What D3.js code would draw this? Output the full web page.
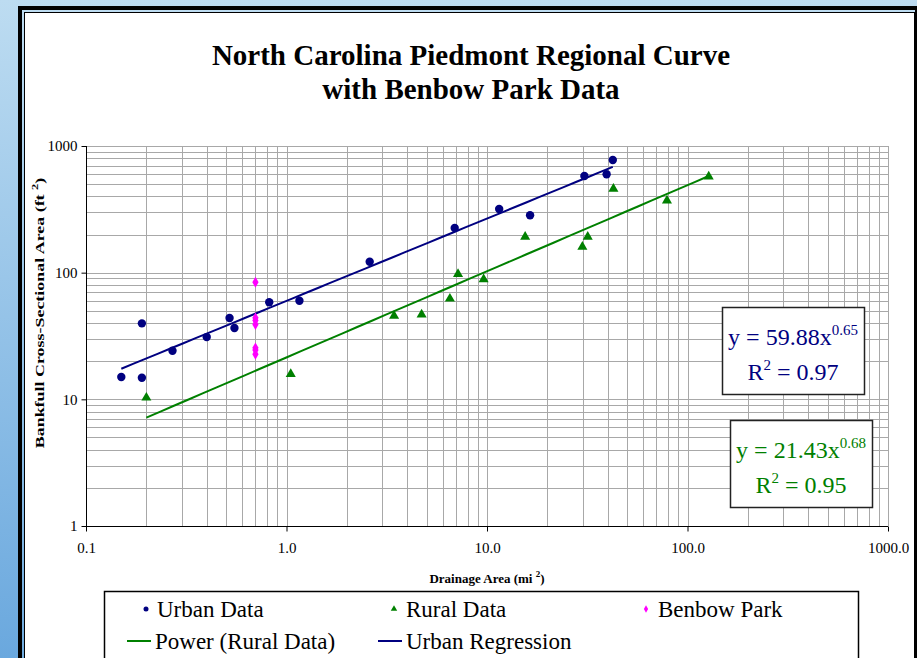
<!DOCTYPE html>
<html>
<head>
<meta charset="utf-8">
<script src="https://cdn.jsdelivr.net/npm/d3@7"></script>
<style>
  html, body { margin: 0; padding: 0; overflow: hidden; background: #fff; }
  svg text { font-family: "Liberation Serif", "Times New Roman", Times, serif; }
</style>
</head>
<body>
<svg id="chart" width="917" height="658"></svg>
<script>
// Drainage area (mi²) and bankfull cross-sectional area (ft²) per survey site
const urbanArea = [0.15, 0.19, 0.19, 0.27, 0.40, 0.52, 0.55, 0.82, 1.16, 2.6, 6.9, 11.5, 16.4, 30.6, 39.5, 42.4];
const urbanXS   = [15.0, 39.8, 14.8, 24.2, 31.0, 43.9, 36.6, 58.4, 60.1, 122, 225, 318, 284, 579, 598, 775];

const ruralArea = [0.20, 1.05, 3.44, 4.72, 6.53, 7.17, 9.62, 15.5, 29.9, 31.8, 42.7, 79.0, 127.6];
const ruralXS   = [10.3, 15.8, 45.7, 46.6, 62.3, 97.6, 88.5, 192, 160, 192, 460, 370, 573];

const benbowArea = [0.70, 0.70, 0.70, 0.70, 0.70, 0.70, 0.70];
const benbowXS   = [84, 44, 42, 39, 25.5, 24.5, 22.7];

// Power-law fits y = a·x^b
const urbanFit = { a: 59.88, b: 0.65, r2: "0.97" };
const ruralFit = { a: 21.43, b: 0.68, r2: "0.95" };

const xTickValues = [0.1, 1, 10, 100, 1000];
const xTickLabels = ["0.1", "1.0", "10.0", "100.0", "1000.0"];
const yTickValues = [1, 10, 100, 1000];
const yTickLabels = ["1", "10", "100", "1000"];

const NAVY = "#000080", GREEN = "#008000", PINK = "#ff00ff";

const svg = d3.select("#chart");

// ---- page background and frame ----
const defs = svg.append("defs");
const grad = defs.append("linearGradient").attr("id", "bg").attr("x1", 0).attr("y1", 0).attr("x2", 0).attr("y2", 1);
grad.append("stop").attr("offset", "0%").attr("stop-color", "#bddcf1");
grad.append("stop").attr("offset", "100%").attr("stop-color", "#6aa8de");

svg.append("rect").attr("width", 917).attr("height", 658).attr("fill", "url(#bg)");
svg.append("rect").attr("x", 18).attr("y", 6).attr("width", 1000).attr("height", 700).attr("fill", "#000");
svg.append("rect").attr("x", 22).attr("y", 10).attr("width", 893).attr("height", 700).attr("fill", "url(#bg)");
svg.append("rect").attr("x", 24).attr("y", 12).attr("width", 891).attr("height", 700).attr("fill", "#000");
svg.append("rect").attr("x", 25).attr("y", 13).attr("width", 889).attr("height", 700).attr("fill", "#fff");

// ---- title ----
const title = svg.append("text").attr("text-anchor", "middle")
  .attr("font-weight", "bold").attr("font-size", 29).attr("fill", "#000");
title.append("tspan").attr("x", 471).attr("y", 65).text("North Carolina Piedmont Regional Curve");
title.append("tspan").attr("x", 471).attr("y", 99).text("with Benbow Park Data");

// ---- scales ----
const plot = { left: 86, right: 888, top: 146, bottom: 526 };
const x = d3.scaleLog().domain([0.1, 1000]).range([plot.left, plot.right]);
const y = d3.scaleLog().domain([1, 1000]).range([plot.bottom, plot.top]);

const g = svg.append("g");

// gridlines at every 1–9 step of each decade
const minorX = [], minorY = [];
for (let d = 0.1; d < 1000; d *= 10) for (let k = 1; k <= 10; k++) minorX.push(+(d * k).toPrecision(3));
for (let d = 1; d < 1000; d *= 10) for (let k = 1; k <= 10; k++) minorY.push(+(d * k).toPrecision(3));

g.append("g").selectAll("line").data(Array.from(new Set(minorX))).join("line")
  .attr("x1", d => Math.round(x(d)) + 0.5).attr("x2", d => Math.round(x(d)) + 0.5)
  .attr("y1", plot.top).attr("y2", plot.bottom)
  .attr("stroke", "#a8a8a8").attr("stroke-width", 1);
g.append("g").selectAll("line").data(Array.from(new Set(minorY))).join("line")
  .attr("y1", d => Math.round(y(d)) + 0.5).attr("y2", d => Math.round(y(d)) + 0.5)
  .attr("x1", plot.left).attr("x2", plot.right)
  .attr("stroke", "#a8a8a8").attr("stroke-width", 1);

// axes
const xAxis = d3.axisBottom(x).tickValues(xTickValues)
  .tickFormat((d, i) => xTickLabels[i]).tickSize(5).tickPadding(11);
const yAxis = d3.axisLeft(y).tickValues(yTickValues)
  .tickFormat((d, i) => yTickLabels[i]).tickSize(5).tickPadding(4);

const gx = g.append("g").attr("transform", `translate(0,${plot.bottom + 0.5})`).call(xAxis);
const gy = g.append("g").attr("transform", `translate(${plot.left + 0.5},0)`).call(yAxis);
[gx, gy].forEach(a => {
  a.select(".domain").attr("stroke", "#000");
  a.selectAll(".tick line").attr("stroke", "#000");
  a.selectAll(".tick text").attr("font-size", 15).attr("fill", "#000");
});
gx.select(".domain").attr("d", `M${plot.left},0H${plot.right}`);
gy.select(".domain").attr("d", `M0,${plot.bottom}V${plot.top}`);

// axis titles
const xt = svg.append("text").attr("text-anchor", "middle").attr("x", 487).attr("y", 583)
  .attr("font-weight", "bold").attr("font-size", 13);
xt.append("tspan").text("Drainage Area (mi ");
xt.append("tspan").attr("dy", -6).attr("font-size", 9).text("2");
xt.append("tspan").attr("dy", 6).text(")");

const yt = svg.append("text").attr("text-anchor", "middle")
  .attr("transform", "translate(44,313) rotate(-90) scale(1.38,1)")
  .attr("font-weight", "bold").attr("font-size", 13);
yt.append("tspan").text("Bankfull Cross-Sectional Area (ft ");
yt.append("tspan").attr("dy", -6).attr("font-size", 9).text("2");
yt.append("tspan").attr("dy", 6).text(")");

// ---- regression curves over each data range ----
function fitCurve(fit, xs) {
  const [lo, hi] = d3.extent(xs);
  return d3.range(0, 41).map(i => {
    const xv = lo * Math.pow(hi / lo, i / 40);
    return [xv, fit.a * Math.pow(xv, fit.b)];
  });
}
const line = d3.line().x(d => x(d[0])).y(d => y(d[1]));

g.append("path").datum(fitCurve(ruralFit, ruralArea)).attr("d", line)
  .attr("fill", "none").attr("stroke", GREEN).attr("stroke-width", 2);
g.append("path").datum(fitCurve(urbanFit, urbanArea)).attr("d", line)
  .attr("fill", "none").attr("stroke", NAVY).attr("stroke-width", 2);

// ---- points ----
const zip = (a, b) => a.map((v, i) => [v, b[i]]);
const tri = d3.symbol().type(d3.symbolTriangle).size(44);
const dia = d3.symbol().type(d3.symbolDiamond).size(34);

g.append("g").selectAll("path").data(zip(ruralArea, ruralXS)).join("path")
  .attr("d", tri).attr("transform", d => `translate(${x(d[0])},${y(d[1])})`).attr("fill", GREEN);
g.append("g").selectAll("circle").data(zip(urbanArea, urbanXS)).join("circle")
  .attr("cx", d => x(d[0])).attr("cy", d => y(d[1])).attr("r", 4.2).attr("fill", NAVY);
g.append("g").selectAll("path").data(zip(benbowArea, benbowXS)).join("path")
  .attr("d", dia).attr("transform", d => `translate(${x(d[0])},${y(d[1])})`).attr("fill", PINK);

// ---- equation boxes ----
function eqBox(fit, color, bx, by, bw, bh) {
  svg.append("rect").attr("x", bx + 0.5).attr("y", by + 0.5).attr("width", bw).attr("height", bh)
    .attr("fill", "#fff").attr("stroke", "#222").attr("stroke-width", 1.5);
  const cx = bx + bw / 2;
  const t1 = svg.append("text").attr("text-anchor", "middle").attr("x", cx).attr("y", by + 38)
    .attr("font-size", 24).attr("fill", color);
  t1.append("tspan").text(`y = ${fit.a.toFixed(2)}x`);
  t1.append("tspan").attr("dy", -10).attr("font-size", 15).text(fit.b.toFixed(2));
  const t2 = svg.append("text").attr("text-anchor", "middle").attr("x", cx).attr("y", by + 73)
    .attr("font-size", 24).attr("fill", color);
  t2.append("tspan").text("R");
  t2.append("tspan").attr("dy", -10).attr("font-size", 15).text("2");
  t2.append("tspan").attr("dy", 10).text(` = ${fit.r2}`);
}
eqBox(urbanFit, NAVY, 722, 307, 142, 87);
eqBox(ruralFit, GREEN, 730, 420, 142, 87);

// ---- legend ----
const lg = svg.append("g");
lg.append("rect").attr("x", 104.5).attr("y", 591.5).attr("width", 754).attr("height", 120)
  .attr("fill", "#fff").attr("stroke", "#000").attr("stroke-width", 1.5);
const legendItems = [
  { kind: "circle", color: NAVY, label: "Urban Data", mx: 146, tx: 157, row: 0 },
  { kind: "tri", color: GREEN, label: "Rural Data", mx: 394, tx: 406, row: 0 },
  { kind: "dia", color: PINK, label: "Benbow Park", mx: 646, tx: 658, row: 0 },
  { kind: "line", color: GREEN, label: "Power (Rural Data)", mx: 127, tx: 155, row: 1 },
  { kind: "line", color: NAVY, label: "Urban Regression", mx: 378, tx: 406, row: 1 }
];
legendItems.forEach(it => {
  const cy = 609 + it.row * 32;
  if (it.kind === "circle") lg.append("circle").attr("cx", it.mx).attr("cy", cy).attr("r", 2.5).attr("fill", it.color);
  if (it.kind === "tri") lg.append("path").attr("d", d3.symbol().type(d3.symbolTriangle).size(18))
    .attr("transform", `translate(${it.mx},${cy})`).attr("fill", it.color);
  if (it.kind === "dia") lg.append("path").attr("d", d3.symbol().type(d3.symbolDiamond).size(16))
    .attr("transform", `translate(${it.mx},${cy})`).attr("fill", it.color);
  if (it.kind === "line") lg.append("line").attr("x1", it.mx).attr("x2", it.mx + 24)
    .attr("y1", cy).attr("y2", cy).attr("stroke", it.color).attr("stroke-width", 2);
  lg.append("text").attr("x", it.tx).attr("y", cy + 8).attr("font-size", 23).attr("fill", "#000").text(it.label);
});
</script>
</body>
</html>
